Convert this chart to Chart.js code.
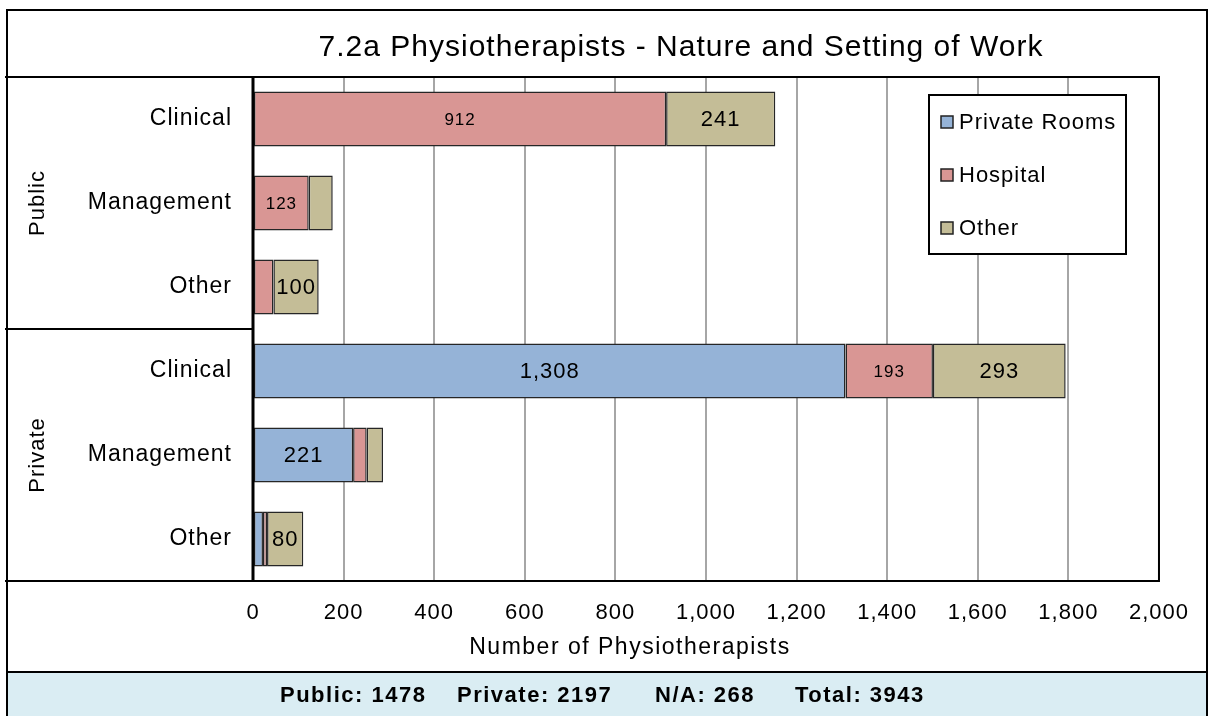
<!DOCTYPE html>
<html lang="en">
<head>
  <meta charset="UTF-8">
  <title>7.2a Physiotherapists - Nature and Setting of Work</title>
  <script src="https://cdn.jsdelivr.net/npm/chart.js"></script>
  <style>
    html, body { margin: 0; padding: 0; background: #fff; }
    #wrap { width: 1208px; height: 716px; position: relative; }
  </style>
</head>
<body>
  <div id="wrap"><canvas id="physioChart" width="1208" height="716"></canvas></div>

  <script>
    // data
    var categories = ['Clinical', 'Management', 'Other', 'Clinical', 'Management', 'Other'];
    var groups = ['Public', 'Private'];
    var privateRooms = [0, 0, 0, 1308, 221, 22];
    var hospital = [912, 123, 45, 193, 30, 9];
    var other = [241, 53, 100, 293, 36, 80];
    var seriesNames = ['Private Rooms', 'Hospital', 'Other'];
    var seriesColors = ['#95b3d7', '#d99694', '#c4bd97'];
    var footerParts = ['Public: 1478', 'Private: 2197', 'N/A: 268', 'Total: 3943'];
    var axisTitle = 'Number of Physiotherapists';

    var FONT = '"Liberation Sans", Arial, sans-serif';

    // excel-ish wide text; canvas resets state on resize so set it before each update/draw
    var spacing = {
      id: 'spacing',
      beforeUpdate: function(chart) { chart.ctx.letterSpacing = '1px'; },
      beforeDraw: function(chart) { chart.ctx.letterSpacing = '1px'; }
    };

    // labels on the bar segments, hospital ones are smaller
    var barLabels = {
      id: 'barLabels',
      afterDatasetsDraw: function(chart) {
        var ctx = chart.ctx;
        ctx.save();
        ctx.letterSpacing = '1px';
        ctx.fillStyle = '#000';
        ctx.textAlign = 'center';
        ctx.textBaseline = 'middle';
        chart.data.datasets.forEach(function(ds, i) {
          var meta = chart.getDatasetMeta(i);
          ctx.font = (i === 1 ? '17px ' : '22px ') + FONT;
          meta.data.forEach(function(bar, j) {
            var v = ds.data[j];
            if (v < 70) return;
            var cx = (bar.x + bar.base) / 2;
            ctx.fillText(v.toLocaleString('en-US'), cx, bar.y + 1);
          });
        });
        ctx.restore();
      }
    };

    // frames, title, group labels, legend box and footer
    var decor = {
      id: 'decor',
      beforeDraw: function(chart) {
        var ctx = chart.ctx;
        ctx.save();
        ctx.fillStyle = '#fff';
        ctx.fillRect(0, 0, chart.width, chart.height);
        ctx.restore();
      },
      afterDraw: function(chart) {
        var ctx = chart.ctx;
        var a = chart.chartArea;
        var y = chart.scales.y;
        ctx.save();

        // footer band
        ctx.fillStyle = '#daedf3';
        ctx.fillRect(7, 672, 1200, 44);
        ctx.strokeStyle = '#000';
        ctx.lineWidth = 2;
        ctx.beginPath();
        ctx.moveTo(6, 672); ctx.lineTo(1207, 672);
        ctx.stroke();
        ctx.fillStyle = '#000';
        ctx.font = 'bold 22px ' + FONT;
        ctx.letterSpacing = '1.5px';
        ctx.textBaseline = 'middle';
        ctx.textAlign = 'left';
        var fx = [280, 457, 655, 795];
        footerParts.forEach(function(t, i) { ctx.fillText(t, fx[i], 696); });
        ctx.letterSpacing = '1px';

        // outer border
        ctx.strokeStyle = '#000';
        ctx.lineWidth = 2;
        ctx.beginPath();
        ctx.moveTo(7, 716); ctx.lineTo(7, 10); ctx.lineTo(1207, 10); ctx.lineTo(1207, 716);
        ctx.stroke();

        // plot frame + separators on the left
        ctx.lineWidth = 2;
        ctx.beginPath();
        ctx.moveTo(5, a.top); ctx.lineTo(a.right, a.top); ctx.lineTo(a.right, a.bottom); ctx.lineTo(5, a.bottom);
        var mid = (y.getPixelForValue(2) + y.getPixelForValue(3)) / 2;
        ctx.moveTo(5, mid); ctx.lineTo(a.left, mid);
        ctx.stroke();
        ctx.lineWidth = 3;
        ctx.beginPath();
        ctx.moveTo(a.left, a.top); ctx.lineTo(a.left, a.bottom);
        ctx.stroke();

        // title
        ctx.font = '30px ' + FONT;
        ctx.textAlign = 'center';
        ctx.fillText('7.2a Physiotherapists - Nature and Setting of Work', 681, 48);

        // x axis title (Excel put it left of the plot centre)
        ctx.font = '23px ' + FONT;
        ctx.letterSpacing = '1.5px';
        ctx.fillText(axisTitle, 630, 648);
        ctx.letterSpacing = '1px';

        // group labels
        ctx.font = '22px ' + FONT;
        groups.forEach(function(g, i) {
          var cy = (y.getPixelForValue(i * 3) + y.getPixelForValue(i * 3 + 2)) / 2;
          ctx.save();
          ctx.translate(38, cy);
          ctx.rotate(-Math.PI / 2);
          ctx.fillText(g, 0, 0);
          ctx.restore();
        });

        // legend
        ctx.fillStyle = '#fff';
        ctx.fillRect(929, 95, 197, 159);
        ctx.strokeStyle = '#000';
        ctx.lineWidth = 2;
        ctx.strokeRect(929, 95, 197, 159);
        ctx.textAlign = 'left';
        ctx.font = '22px ' + FONT;
        seriesNames.forEach(function(n, i) {
          var ly = 122 + i * 53;
          ctx.fillStyle = seriesColors[i];
          ctx.fillRect(941, ly - 6, 12, 12);
          ctx.strokeStyle = '#222';
          ctx.lineWidth = 1.5;
          ctx.strokeRect(941, ly - 6, 12, 12);
          ctx.fillStyle = '#000';
          ctx.fillText(n, 959, ly + 1);
        });

        ctx.restore();
      }
    };

    var ctx = document.getElementById('physioChart').getContext('2d');
    var physioChart = new Chart(ctx, {
      type: 'bar',
      data: {
        labels: categories,
        datasets: [
          { label: seriesNames[0], data: privateRooms, backgroundColor: seriesColors[0] },
          { label: seriesNames[1], data: hospital, backgroundColor: seriesColors[1] },
          { label: seriesNames[2], data: other, backgroundColor: seriesColors[2] }
        ]
      },
      options: {
        indexAxis: 'y',
        responsive: false,
        animation: false,
        layout: { padding: { left: 0, right: 48, top: 77, bottom: 0 } },
        datasets: {
          bar: {
            categoryPercentage: 1,
            barPercentage: 0.655,
            borderColor: '#262626',
            borderWidth: 1.5,
            borderSkipped: false
          }
        },
        scales: {
          x: {
            stacked: true,
            min: 0,
            max: 2000,
            ticks: {
              stepSize: 200,
              color: '#000',
              padding: 19,
              maxRotation: 0,
              autoSkip: false,
              font: { family: FONT, size: 22 },
              callback: function(v) { return v.toLocaleString('en-US'); }
            },
            grid: {
              drawTicks: false,
              lineWidth: 2,
              color: function(c) { return c.tick && c.tick.value === 0 ? 'rgba(0,0,0,0)' : '#a6a6a6'; }
            },
            border: { display: false },
            afterFit: function(s) { s.height = 135; }
          },
          y: {
            stacked: true,
            ticks: {
              color: '#000',
              padding: 21,
              font: { family: FONT, size: 23 }
            },
            grid: { display: false, drawTicks: false },
            border: { display: false },
            afterFit: function(s) { s.width = 253; }
          }
        },
        plugins: {
          legend: { display: false },
          title: { display: false },
          tooltip: { enabled: false }
        }
      },
      plugins: [spacing, decor, barLabels]
    });
  </script>
</body>
</html>
